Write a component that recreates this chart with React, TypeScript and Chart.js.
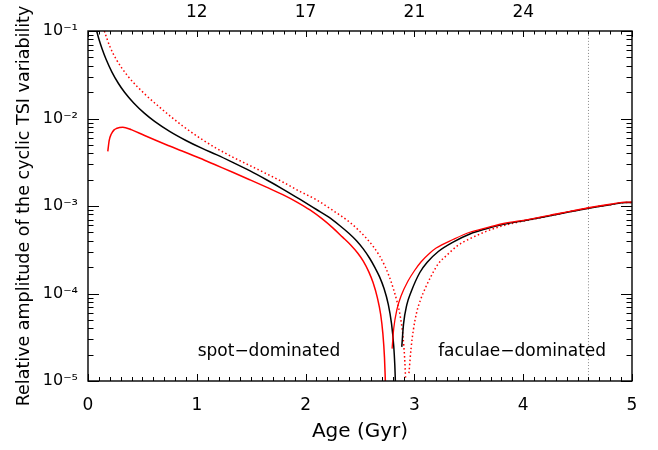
import React, { useEffect, useRef } from 'react';
import { Chart, registerables } from 'chart.js';

Chart.register(...registerables);

// ---- Data (amplitudes stored as log10 values) ----
const blackSpotAge = [0.08, 0.10, 0.13, 0.167, 0.22, 0.28, 0.336, 0.42, 0.52, 0.612, 0.75, 0.90, 1.05, 1.18, 1.33, 1.49, 1.64, 1.79, 1.95, 2.10, 2.21, 2.31, 2.40, 2.47, 2.53, 2.59, 2.64, 2.68, 2.72, 2.76, 2.79, 2.81, 2.82, 2.825];
const blackSpotLog = [-1.0, -1.092, -1.206, -1.326, -1.469, -1.600, -1.70, -1.823, -1.942, -2.033, -2.147, -2.251, -2.342, -2.413, -2.501, -2.599, -2.70, -2.806, -2.925, -3.04, -3.125, -3.22, -3.315, -3.40, -3.49, -3.60, -3.71, -3.81, -3.94, -4.125, -4.347, -4.60, -4.82, -5.0];

const blackFacAge = [2.884, 2.90, 2.93, 2.97, 3.05, 3.12, 3.22, 3.36, 3.51, 3.66, 3.82, 4.04, 4.35, 4.6, 4.8, 4.95, 5.0];
const blackFacLog = [-4.61, -4.35, -4.13, -3.98, -3.76, -3.64, -3.52, -3.41, -3.32, -3.26, -3.21, -3.16, -3.085, -3.025, -2.985, -2.96, -2.96];

const redSpotAge = [0.182, 0.195, 0.213, 0.24, 0.26, 0.32, 0.397, 0.52, 0.72, 0.872, 1.03, 1.18, 1.33, 1.486, 1.64, 1.79, 1.92, 2.04, 2.15, 2.25, 2.34, 2.41, 2.48, 2.53, 2.58, 2.62, 2.66, 2.69, 2.71, 2.725, 2.733];
const redSpotLog = [-2.375, -2.25, -2.18, -2.13, -2.115, -2.10, -2.127, -2.195, -2.30, -2.375, -2.455, -2.535, -2.615, -2.70, -2.785, -2.87, -2.955, -3.045, -3.145, -3.25, -3.356, -3.44, -3.54, -3.63, -3.75, -3.875, -4.05, -4.24, -4.455, -4.73, -5.0];

const redFacAge = [2.795, 2.81, 2.84, 2.88, 2.94, 3.0, 3.06, 3.14, 3.2, 3.36, 3.51, 3.66, 3.82, 4.04, 4.35, 4.6, 4.8, 4.95, 5.0];
const redFacLog = [-4.63, -4.40, -4.18, -4.02, -3.86, -3.74, -3.64, -3.54, -3.48, -3.38, -3.30, -3.25, -3.20, -3.155, -3.08, -3.02, -2.98, -2.955, -2.955];

const dotSpotAge = [0.15, 0.20, 0.259, 0.366, 0.52, 0.66, 0.77, 0.872, 1.03, 1.18, 1.33, 1.486, 1.64, 1.79, 1.95, 2.10, 2.25, 2.41, 2.49, 2.56, 2.62, 2.68, 2.73, 2.77, 2.80, 2.84, 2.87, 2.895, 2.91, 2.919];
const dotSpotLog = [-1.0, -1.175, -1.323, -1.515, -1.718, -1.873, -1.987, -2.087, -2.225, -2.34, -2.441, -2.537, -2.631, -2.726, -2.835, -2.93, -3.05, -3.19, -3.28, -3.37, -3.46, -3.57, -3.69, -3.81, -3.92, -4.09, -4.26, -4.49, -4.73, -4.97];

const dotFacAge = [2.95, 2.97, 2.99, 3.02, 3.06, 3.10, 3.15, 3.22, 3.30, 3.40, 3.50, 3.66, 3.80, 3.97, 4.1, 4.35, 4.6, 4.8, 4.95, 5.0];
const dotFacLog = [-4.91, -4.62, -4.42, -4.22, -4.06, -3.94, -3.81, -3.66, -3.56, -3.45, -3.38, -3.29, -3.23, -3.18, -3.15, -3.085, -3.025, -2.985, -2.96, -2.96];

const sunAge = [4.6, 4.6];
const sunLine = [1e-5, 1e-1];

const bottomTickAges = [0, 1, 2, 3, 4, 5];
const topTickAges = [1, 2, 3, 4];
const topTickLabels = ['12', '17', '21', '24'];
const yTickValues = [1e-5, 1e-4, 1e-3, 1e-2, 1e-1];

const annotationTexts = ['spot\u2212dominated', 'faculae\u2212dominated'];
const annotationAges = [1.663, 3.99];

const SUP: Record<string, string> = { '-': '\u207B', '0': '\u2070', '1': '\u00B9', '2': '\u00B2', '3': '\u00B3', '4': '\u2074', '5': '\u2075' };
const sup = (n: number) => String(n).split('').map((c) => SUP[c] || c).join('');

const toPts = (ages: number[], logs: number[]) => ages.map((a, i) => ({ x: a, y: Math.pow(10, logs[i]) }));

const FONT = 'DejaVu Sans';

const framePlugin = {
  id: 'frameTicks',
  afterDatasetsDraw(chart: any) {
    const { ctx, chartArea: a, scales } = chart;
    const xs = scales.x;
    const ys = scales.y;
    ctx.save();
    ctx.strokeStyle = '#000';
    ctx.lineWidth = 1;
    ctx.beginPath();
    for (let i = 0; i <= 50; i++) {
      const px = Math.round(xs.getPixelForValue(i / 10)) + 0.5;
      const major = i % 10 === 0;
      const lb = major ? 7 : 4;
      const lt = major ? 6 : 3.5;
      ctx.moveTo(px, a.bottom);
      ctx.lineTo(px, a.bottom - lb);
      ctx.moveTo(px, a.top);
      ctx.lineTo(px, a.top + lt);
    }
    for (let k = -5; k <= -1; k++) {
      for (let m = 1; m <= 9; m++) {
        const v = m * Math.pow(10, k);
        if (v > 0.1000001) break;
        const py = Math.round(ys.getPixelForValue(v)) + 0.5;
        const len = m === 1 ? 11 : 5.5;
        ctx.moveTo(a.left, py);
        ctx.lineTo(a.left + len, py);
        ctx.moveTo(a.right, py);
        ctx.lineTo(a.right - len, py);
      }
    }
    ctx.stroke();
    ctx.lineWidth = 1.4;
    ctx.strokeRect(a.left, a.top, a.right - a.left, a.bottom - a.top);

    ctx.fillStyle = '#000';
    ctx.font = `17px "${FONT}"`;
    ctx.textAlign = 'center';
    ctx.textBaseline = 'alphabetic';
    const ty = ys.getPixelForValue(1.93e-5);
    annotationTexts.forEach((t, i) => {
      ctx.fillText(t, xs.getPixelForValue(annotationAges[i]), ty);
    });
    ctx.restore();
  },
};

export default function App() {
  const ref = useRef<HTMLCanvasElement>(null);
  useEffect(() => {
    Chart.defaults.font.family = FONT;
    Chart.defaults.color = '#000';
    const line = (data: any, color: string, dash: number[] = [], width = 1.5) => ({
      data,
      borderColor: color,
      backgroundColor: color,
      borderWidth: width,
      borderDash: dash,
      pointRadius: 0,
      fill: false,
      cubicInterpolationMode: 'monotone' as const,
    });
    const chart = new Chart(ref.current!, {
      type: 'line',
      data: {
        datasets: [
          line(toPts(redFacAge, redFacLog), '#ff0000', [], 1.3),
          line(toPts(redSpotAge, redSpotLog), '#ff0000'),
          line(toPts(blackSpotAge, blackSpotLog), '#000000'),
          line(toPts(blackFacAge, blackFacLog), '#000000'),
          line(toPts(dotSpotAge, dotSpotLog), '#ff0000', [1.5, 2.5]),
          line(toPts(dotFacAge, dotFacLog), '#ff0000', [1.5, 2.5]),
          line(sunAge.map((a, i) => ({ x: a, y: sunLine[i] })), '#888888', [1, 2], 1),
        ],
      },
      options: {
        responsive: false,
        animation: false,
        devicePixelRatio: 1,
        layout: { padding: { left: 0, right: 26, top: 0, bottom: 0 } },
        plugins: { legend: { display: false }, tooltip: { enabled: false } },
        scales: {
          x: {
            type: 'linear',
            position: 'bottom',
            min: 0,
            max: 5,
            grid: { display: false, drawTicks: false },
            border: { display: false },
            ticks: { padding: 14, color: '#000', font: { size: 17 }, maxRotation: 0, callback: (v: any) => String(v) },
            afterBuildTicks: (s: any) => { s.ticks = bottomTickAges.map((v) => ({ value: v })); },
            afterFit: (s: any) => { s.height = 69; },
            title: { display: true, text: 'Age (Gyr)', color: '#000', font: { size: 20 }, padding: { top: 0, bottom: 6 } },
          },
          x2: {
            type: 'linear',
            position: 'top',
            min: 0,
            max: 5,
            grid: { display: false, drawTicks: false },
            border: { display: false },
            ticks: { padding: 8, color: '#000', font: { size: 17 }, maxRotation: 0, callback: (_v: any, i: number) => topTickLabels[i] },
            afterBuildTicks: (s: any) => { s.ticks = topTickAges.map((v) => ({ value: v })); },
            afterFit: (s: any) => { s.height = 31; },
          },
          y: {
            type: 'logarithmic',
            position: 'left',
            min: 1e-5,
            max: 1e-1,
            grid: { display: false, drawTicks: false },
            border: { display: false },
            ticks: { padding: 10, color: '#000', font: { size: 16 }, callback: (v: any) => '10' + sup(Math.round(Math.log10(v))) },
            afterBuildTicks: (s: any) => { s.ticks = yTickValues.map((v) => ({ value: v })); },
            afterFit: (s: any) => { s.width = 88; },
            title: { display: true, text: 'Relative amplitude of the cyclic TSI variability', color: '#000', font: { size: 17.5 }, padding: { top: 14, bottom: 0 } },
          },
        },
      } as any,
      plugins: [framePlugin],
    });
    return () => chart.destroy();
  }, []);
  return (
    <canvas
      ref={ref}
      width={658}
      height={450}
      style={{ position: 'fixed', left: 0, top: 0, width: 658, height: 450 }}
    />
  );
}
